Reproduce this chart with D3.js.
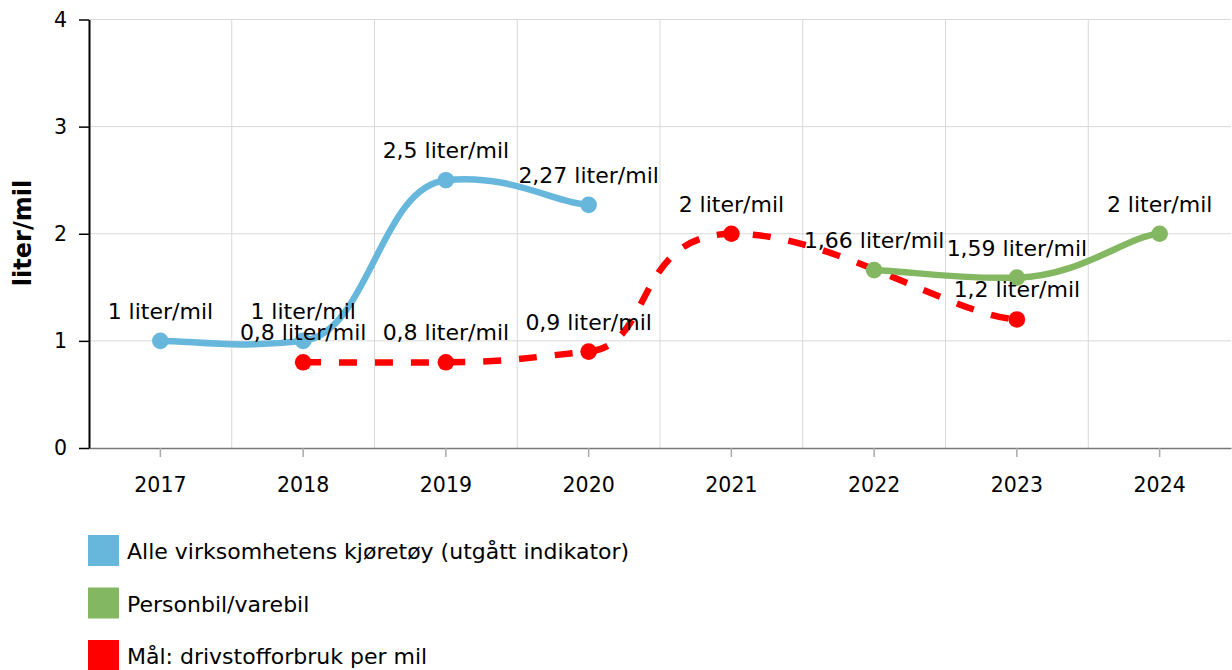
<!DOCTYPE html>
<html>
<head>
<meta charset="utf-8">
<script src="https://cdn.jsdelivr.net/npm/d3@7"></script>
<style>
  html, body { margin: 0; padding: 0; background: #fff; }
  svg { display: block; font-family: "DejaVu Sans", Verdana, sans-serif; }
</style>
</head>
<body>
<svg id="chart" width="1232" height="670"></svg>
<script>
// ---- data ----
const years = ["2017", "2018", "2019", "2020", "2021", "2022", "2023", "2024"];
const yTicks = [0, 1, 2, 3, 4];
const seriesNames = ["Alle virksomhetens kjøretøy (utgått indikator)", "Personbil/varebil", "Mål: drivstofforbruk per mil"];
const seriesColors = ["#67b7dc", "#84b761", "#ff0000"];
const blueYears = ["2017", "2018", "2019", "2020"];
const blueValues = [1, 1, 2.5, 2.27];
const greenYears = ["2022", "2023", "2024"];
const greenValues = [1.66, 1.59, 2];
const redYears = ["2018", "2019", "2020", "2021", "2023"];
const redValues = [0.8, 0.8, 0.9, 2, 1.2];
const unit = "liter/mil";

// ---- layout ----
const svg = d3.select("#chart");
const x = d3.scaleBand().domain(years).range([89, 1231]);
const y = d3.scaleLinear().domain([0, 4]).range([448, 19.5]);
const cx = d => x(d) + x.bandwidth() / 2;
const FS_TICK = 20.5;
const FS_LABEL = 22;

// amCharts-like tension smoothing as a d3 curve
function curveTension(tensionX, tensionY) {
  const Tx = 1 - tensionX, Ty = 1 - tensionY;
  return function(context) {
    let pts = [];
    return {
      areaStart() {}, areaEnd() {},
      lineStart() { pts = []; },
      point(px, py) { pts.push([+px, +py]); },
      lineEnd() {
        const n = pts.length;
        if (!n) return;
        context.moveTo(pts[0][0], pts[0][1]);
        for (let i = 0; i < n - 1; i++) {
          const p1 = pts[i], p2 = pts[i + 1];
          const p0 = i === 0 ? pts[i] : pts[i - 1];
          const p3 = i === n - 2 ? pts[i + 1] : pts[i + 2];
          const ax = p1[0] + Tx * (p2[0] - p0[0]);
          const ay = p1[1] + Ty * (p2[1] - p0[1]);
          const bx = p2[0] - Tx * (p3[0] - p1[0]);
          const by = p2[1] - Ty * (p3[1] - p1[1]);
          context.bezierCurveTo(ax, ay, bx, by, p2[0], p2[1]);
        }
      }
    };
  };
}

// ---- grid ----
const grid = svg.append("g");
grid.selectAll("line.h").data(yTicks.filter(t => t > 0)).join("line")
  .attr("x1", 89).attr("x2", 1231)
  .attr("y1", d => y(d)).attr("y2", d => y(d))
  .attr("stroke", "#d9d9d9").attr("stroke-width", 1);
grid.selectAll("line.v").data(years.slice(1)).join("line")
  .attr("x1", d => x(d)).attr("x2", d => x(d))
  .attr("y1", y(4)).attr("y2", y(0))
  .attr("stroke", "#d9d9d9").attr("stroke-width", 1);

// ---- x axis ----
const xAxis = svg.append("g").attr("transform", `translate(0,${y(0)})`)
  .call(d3.axisBottom(x).tickSize(9).tickPadding(20).tickSizeOuter(0));
xAxis.select(".domain").attr("stroke", "#777").attr("stroke-width", 1.5);
xAxis.selectAll(".tick line").attr("stroke", "#aaa").attr("stroke-width", 1.5);
xAxis.selectAll(".tick text").attr("font-size", FS_TICK).attr("fill", "#000")
  .attr("font-family", "DejaVu Sans, Verdana, sans-serif");

// ---- y axis ----
const yAxis = svg.append("g").attr("transform", `translate(89,0)`)
  .call(d3.axisLeft(y).tickValues(yTicks).tickFormat(d3.format("d")).tickSize(10).tickPadding(12).tickSizeOuter(0));
yAxis.select(".domain").attr("stroke", "#000").attr("stroke-width", 2);
yAxis.selectAll(".tick line").attr("stroke", "#000").attr("stroke-width", 1.5);
yAxis.selectAll(".tick text").attr("font-size", FS_TICK).attr("fill", "#000")
  .attr("font-family", "DejaVu Sans, Verdana, sans-serif");

svg.append("text")
  .attr("transform", `translate(31,233) rotate(-90)`)
  .attr("text-anchor", "middle")
  .attr("font-size", 24).attr("font-weight", "bold").attr("fill", "#000")
  .text(unit);

// ---- series ----
const line = d3.line().x(d => cx(d.year)).y(d => y(d.value)).curve(curveTension(0.77, 0.95));
const toPts = (ys, vs) => ys.map((yr, i) => ({ year: yr, value: vs[i] }));
const series = [
  { pts: toPts(redYears, redValues), color: seriesColors[2], dash: "18,18" },
  { pts: toPts(blueYears, blueValues), color: seriesColors[0], dash: null },
  { pts: toPts(greenYears, greenValues), color: seriesColors[1], dash: null }
];
series.forEach(s => {
  const g = svg.append("g");
  g.append("path").datum(s.pts).attr("d", line)
    .attr("fill", "none").attr("stroke", s.color).attr("stroke-width", 6.5)
    .attr("stroke-linecap", s.dash ? "butt" : "round")
    .attr("stroke-dasharray", s.dash);
  g.selectAll("circle").data(s.pts).join("circle")
    .attr("cx", d => cx(d.year)).attr("cy", d => y(d.value)).attr("r", 8.3)
    .attr("fill", s.color);
});

// ---- data labels ----
const labels = svg.append("g");
series.forEach(s => {
  labels.selectAll(null).data(s.pts).join("text")
    .attr("x", d => cx(d.year)).attr("y", d => y(d.value) - 22)
    .attr("text-anchor", "middle").attr("font-size", FS_LABEL).attr("fill", "#000")
    .text(d => String(d.value).replace(".", ",") + " " + unit);
});

// ---- legend ----
const legend = svg.append("g");
const legTops = [535, 587.5, 640];
seriesNames.forEach((name, i) => {
  legend.append("rect").attr("x", 88).attr("y", legTops[i]).attr("width", 31).attr("height", 31)
    .attr("fill", seriesColors[i]);
  legend.append("text").attr("x", 127).attr("y", legTops[i] + 24)
    .attr("font-size", 22).attr("fill", "#000").text(name);
});
</script>
</body>
</html>
